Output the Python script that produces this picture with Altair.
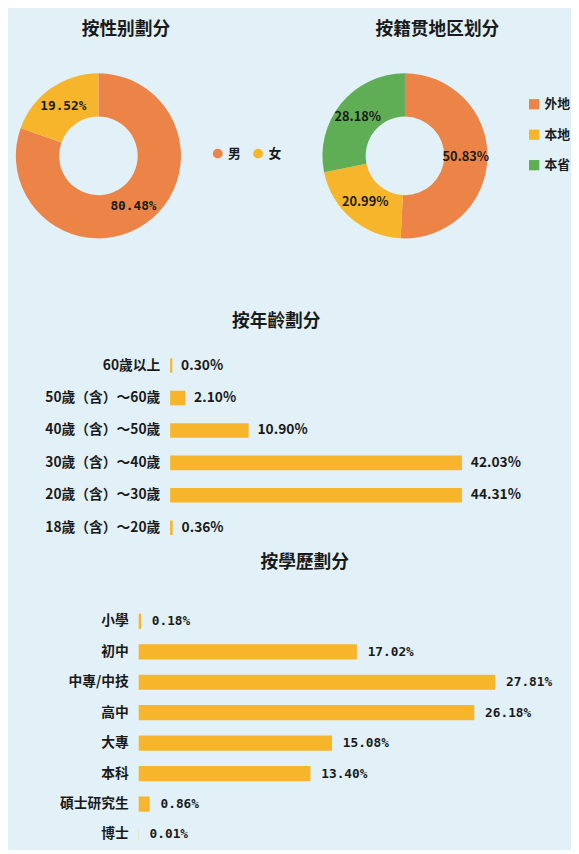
import altair as alt
import pandas as pd

# ---- data ----
gender_cats = ["男", "女"]
gender_vals = [80.48, 19.52]

region_cats = ["外地", "本地", "本省"]
region_vals = [50.83, 20.99, 28.18]

age_cats = ["60歲以上", "50歲（含）～60歲", "40歲（含）～50歲",
            "30歲（含）～40歲", "20歲（含）～30歲", "18歲（含）～20歲"]
age_vals = [0.30, 2.10, 10.90, 42.03, 44.31, 0.36]

edu_cats = ["小學", "初中", "中專/中技", "高中", "大專", "本科", "碩士研究生", "博士"]
edu_vals = [0.18, 17.02, 27.81, 26.18, 15.08, 13.40, 0.86, 0.01]

ORANGE = "#EC8447"
YELLOW = "#F7B52C"
GREEN = "#5FAE55"
FONT = "Noto Sans CJK SC"
MONO = "DejaVu Sans Mono"
DARK = "#1a1a1a"


def pct(v):
    return f"{v:.2f}%"


def donut(cats, vals, colors, title, title_dx, width, legend, label_font):
    df = pd.DataFrame({"cat": cats, "val": vals, "idx": list(range(len(cats))),
                       "lab": [pct(v) for v in vals]})
    base = alt.Chart(df).encode(
        theta=alt.Theta("val:Q", stack=True),
        order=alt.Order("idx:Q"),
    )
    arc = base.mark_arc(innerRadius=40, outerRadius=84).encode(
        color=alt.Color("cat:N", scale=alt.Scale(domain=cats, range=colors), legend=legend)
    )
    txt = base.mark_text(radius=62, font=label_font, fontSize=13, fontWeight="bold",
                         color=DARK).encode(text="lab:N")
    return alt.layer(arc, txt).properties(
        width=width, height=168,
        title=alt.TitleParams(title, dx=title_dx, offset=35),
    )


def bars(cats, vals, title, title_dx, title_offset, step, pad, pad_outer, W,
         x0, x1, dmax, label_size, value_font, value_size, text_dx):
    df = pd.DataFrame({"cat": cats, "val": vals, "lab": [pct(v) for v in vals]})
    n = len(cats)
    y = alt.Y("cat:N", sort=cats, title=None,
              scale=alt.Scale(paddingInner=pad, paddingOuter=pad_outer), axis=None)
    x = alt.X("val:Q", scale=alt.Scale(domain=[0, dmax], range=[x0, x1], clamp=True),
              axis=None)
    bar = alt.Chart(df).mark_bar(color=YELLOW).encode(x=x, y=y)
    val_txt = alt.Chart(df).mark_text(align="left", baseline="middle", dx=text_dx,
                                      font=value_font, fontSize=value_size,
                                      fontWeight="bold", color=DARK).encode(
        x=x, y=y, text="lab:N")
    cat_txt = alt.Chart(df).mark_text(align="right", baseline="middle", dx=-10,
                                      font=FONT, fontSize=label_size,
                                      fontWeight="bold", color=DARK).encode(
        x=alt.value(x0), y=y, text="cat:N")
    return alt.layer(bar, val_txt, cat_txt).properties(
        width=W, height=step * (n - pad + 2 * pad_outer),
        title=alt.TitleParams(title, dx=title_dx, offset=title_offset),
    )


legend1 = alt.Legend(orient="none", legendX=207, legendY=75, direction="horizontal",
                     title=None, symbolType="circle", symbolSize=100, symbolStrokeWidth=0,
                     labelFont=FONT, labelFontSize=13, labelFontWeight="bold",
                     labelColor=DARK, columnPadding=10)
legend2 = alt.Legend(orient="none", legendX=209, legendY=25, direction="vertical",
                     title=None, symbolType="square", symbolSize=110, symbolStrokeWidth=0,
                     labelFont=FONT, labelFontSize=13, labelFontWeight="bold",
                     labelColor=DARK, rowPadding=17)

d1 = donut(gender_cats, gender_vals, [ORANGE, YELLOW], "按性别劃分", 28, 184, legend1, MONO)
d2 = donut(region_cats, region_vals, [ORANGE, YELLOW, GREEN], "按籍贯地区划分", 33, 168,
           legend2, FONT)

top = alt.hconcat(d1, d2, spacing=41).resolve_scale(color="independent").resolve_legend(color="independent")

AGE_W = 520
EDU_W = 560
age = bars(age_cats, age_vals, "按年齡劃分", 273 - AGE_W / 2, 19, 33, 0.55, 0.275, AGE_W,
           165, 462, 40.5, 14, FONT, 14, 9)
edu = bars(edu_cats, edu_vals, "按學歷劃分", 302 - EDU_W / 2, 43, 31, 0.5, 0.0, EDU_W,
           133, 544, 31.5, 14, MONO, 13, 11)

lower = alt.vconcat(age, edu, spacing=10)
chart = alt.vconcat(top, lower, spacing=76).properties(
    padding={"left": 0, "top": 6, "right": 0, "bottom": 0}
).configure(background="#e2f1f8").configure_view(stroke=None).configure_title(
    font=FONT, fontSize=18, fontWeight="bold", color=DARK
)

chart.save("out.html", embed_options={"renderer": "svg", "actions": False})
